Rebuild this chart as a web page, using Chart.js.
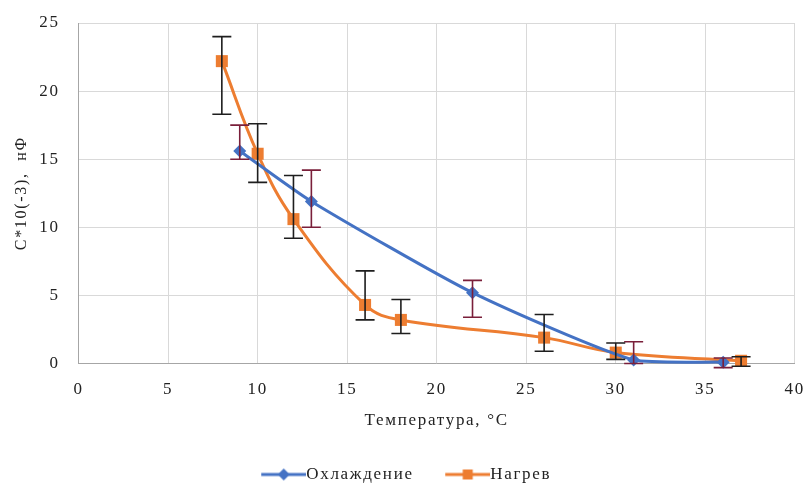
<!DOCTYPE html>
<html>
<head>
<meta charset="utf-8">
<script src="https://cdn.jsdelivr.net/npm/chart.js@4.4.1/dist/chart.umd.min.js"></script>
<style>
  body { margin: 0; background: #fff; }
  #wrap { width: 805px; height: 487px; }
</style>
</head>
<body>
<div id="wrap"><canvas id="capChart" width="805" height="487"></canvas></div>
<script>
// охлаждение
var coolT = [9, 13, 22, 31, 36];
var coolC = [15.6, 11.9, 5.2, 0.25, 0.1];
var coolHi = [17.5, 14.2, 6.1, 1.6, 0.4];
var coolLo = [15.0, 10.0, 3.4, 0.0, -0.3];

// нагрев
var heatT = [8, 10, 12, 16, 18, 26, 30, 37];
var heatC = [22.2, 15.4, 10.6, 4.3, 3.2, 1.9, 0.8, 0.2];
var heatHi = [24.0, 17.6, 13.8, 6.8, 4.7, 3.6, 1.5, 0.5];
var heatLo = [18.3, 13.3, 9.2, 3.2, 2.2, 0.9, 0.3, -0.2];

var xTicks = [0, 5, 10, 15, 20, 25, 30, 35, 40];
var yTicks = [0, 5, 10, 15, 20, 25];

var BLUE = '#4472C4', ORANGE = '#ED7D31';
var SERIF = '"Liberation Serif", "Times New Roman", serif';

function points(xs, ys) {
  var out = [];
  for (var i = 0; i < xs.length; i++) out.push({x: xs[i], y: ys[i]});
  return out;
}

// legend sample: line with marker, left part left empty = gap between items
function legendIcon(color, shape) {
  var c = document.createElement('canvas');
  c.width = 85; c.height = 14;
  var g = c.getContext('2d');
  g.strokeStyle = color; g.lineWidth = 3;
  g.beginPath(); g.moveTo(40, 7); g.lineTo(85, 7); g.stroke();
  g.fillStyle = color;
  var m = 62.5;
  if (shape == 'diamond') {
    g.beginPath(); g.moveTo(m, 1); g.lineTo(m + 6, 7); g.lineTo(m, 13); g.lineTo(m - 6, 7); g.closePath(); g.fill();
  } else {
    g.fillRect(m - 5, 2, 10, 10);
  }
  return c;
}

var errorBars = {
  id: 'errorBars',
  afterDatasetsDraw: function (chart) {
    var ctx = chart.ctx, xs = chart.scales.x, ys = chart.scales.y;
    chart.data.datasets.forEach(function (ds) {
      ctx.save();
      ctx.strokeStyle = ds.errColor;
      ctx.lineWidth = 1.6;
      for (var i = 0; i < ds.data.length; i++) {
        var px = xs.getPixelForValue(ds.data[i].x);
        var top = ys.getPixelForValue(ds.errHi[i]);
        var bot = ys.getPixelForValue(ds.errLo[i]);
        ctx.beginPath();
        ctx.moveTo(px, top); ctx.lineTo(px, bot);
        ctx.moveTo(px - 9.5, top); ctx.lineTo(px + 9.5, top);
        ctx.moveTo(px - 9.5, bot); ctx.lineTo(px + 9.5, bot);
        ctx.stroke();
      }
      ctx.restore();
    });
  }
};

// the text in the picture is a bit wider than Times, spread the letters
var spacing = {
  id: 'spacing',
  beforeLayout: function (chart) { chart.ctx.letterSpacing = '1.7px'; },
  beforeDraw: function (chart) { chart.ctx.letterSpacing = '1.7px'; }
};

var chart = new Chart(document.getElementById('capChart'), {
  type: 'line',
  data: {
    datasets: [
      {
        label: 'Охлаждение',
        data: points(coolT, coolC),
        errHi: coolHi, errLo: coolLo, errColor: '#7a1f3a',
        borderColor: BLUE, backgroundColor: BLUE,
        borderWidth: 3, tension: 0.2,
        pointStyle: 'rectRot', pointRadius: 6.5, pointHoverRadius: 6.5,
        pointBorderWidth: 0, legendIcon: legendIcon(BLUE, 'diamond'),
        clip: false
      },
      {
        label: 'Нагрев',
        data: points(heatT, heatC),
        errHi: heatHi, errLo: heatLo, errColor: '#1e1e1e',
        borderColor: ORANGE, backgroundColor: ORANGE,
        borderWidth: 3, tension: 0.4,
        pointStyle: 'rect', pointRadius: 8.5, pointHoverRadius: 8.5,
        pointBorderWidth: 0, legendIcon: legendIcon(ORANGE, 'square'),
        clip: false
      }
    ]
  },
  options: {
    responsive: false,
    animation: false,
    layout: { padding: { left: -24, right: 0, top: 23, bottom: -6 } },
    plugins: {
      tooltip: { enabled: false },
      legend: {
        position: 'bottom',
        labels: {
          usePointStyle: true,
          pointStyleWidth: 68,
          padding: 0,
          color: '#222',
          font: { family: SERIF, size: 17 },
          generateLabels: function (ch) {
            return ch.data.datasets.map(function (ds, i) {
              return {
                text: ds.label, pointStyle: ds.legendIcon, datasetIndex: i,
                fillStyle: ds.backgroundColor, strokeStyle: ds.borderColor,
                fontColor: '#222', lineWidth: 0, hidden: false
              };
            });
          }
        }
      }
    },
    scales: {
      x: {
        type: 'linear', min: 0, max: 40,
        afterBuildTicks: function (s) { s.ticks = xTicks.map(function (v) { return {value: v}; }); },
        grid: { color: '#d9d9d9', tickLength: 17.5, tickColor: 'rgba(0,0,0,0)' },
        border: { color: '#a6a6a6' },
        ticks: { padding: 0, color: '#222', font: { family: SERIF, size: 17, lineHeight: 1 } },
        title: {
          display: true, text: 'Температура, °С', color: '#222',
          font: { family: SERIF, size: 17, lineHeight: 1 }, padding: { top: 14, bottom: 37 }
        }
      },
      y: {
        min: 0, max: 25,
        afterBuildTicks: function (s) { s.ticks = yTicks.map(function (v) { return {value: v}; }); },
        grid: { color: '#d9d9d9', tickLength: 19, tickColor: 'rgba(0,0,0,0)' },
        border: { color: '#a6a6a6' },
        ticks: { padding: 0, color: '#222', font: { family: SERIF, size: 17 } },
        title: {
          display: true, text: 'C*10(-3),  нФ', color: '#222',
          font: { family: SERIF, size: 16 }, padding: { top: 36, bottom: 8 }
        }
      }
    }
  },
  plugins: [spacing, errorBars]
});
</script>
</body>
</html>
